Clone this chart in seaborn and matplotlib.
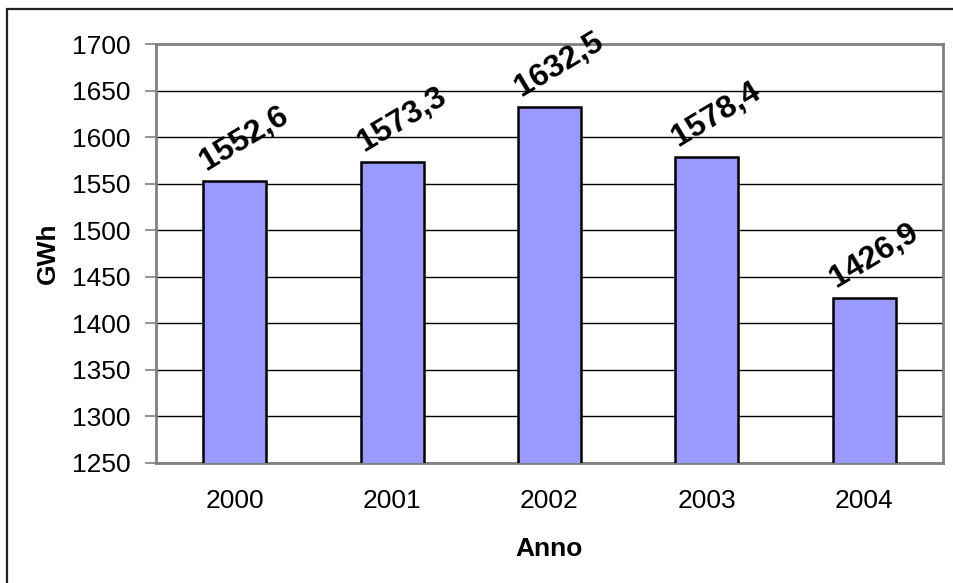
import matplotlib
matplotlib.use('Agg')
import matplotlib.pyplot as plt
import matplotlib.patches as patches
import pandas as pd
import seaborn as sns

years = ['2000', '2001', '2002', '2003', '2004']
gwh = [1552.6, 1573.3, 1632.5, 1578.4, 1426.9]
y_ticks = list(range(1250, 1701, 50))

sns.set_style('white')
plt.rcParams['font.family'] = ['Liberation Sans', 'DejaVu Sans']
plt.rcParams['text.color'] = 'black'
plt.rcParams['axes.labelcolor'] = 'black'
plt.rcParams['xtick.color'] = 'black'
plt.rcParams['ytick.color'] = 'black'

W, H = 954, 583
fig = plt.figure(figsize=(W / 100, H / 100), dpi=100)
ax = fig.add_axes([156 / W, 1 - 463 / H, (943 - 156) / W, (463 - 44) / H])

df = pd.DataFrame({'Anno': years, 'GWh': gwh})
sns.barplot(data=df, x='Anno', y='GWh', color='#9999FF', edgecolor='black',
            linewidth=1.8, width=0.4, saturation=1, ax=ax, zorder=3)

ax.set_ylim(1250, 1700)
ax.set_xlim(-0.5, len(years) - 0.5)
ax.set_yticks(y_ticks)
ax.yaxis.grid(True, color='black', linewidth=1.0, zorder=0)
ax.set_axisbelow(True)

# tick marks between categories, like the original spreadsheet chart
ax.set_xticks([i - 0.5 for i in range(len(years) + 1)], minor=True)
ax.tick_params(axis='x', which='major', length=0, pad=19, labelsize=19)
ax.tick_params(axis='x', which='minor', length=7, width=1.2, color='#808080', direction='out')
ax.tick_params(axis='y', length=8, width=1.2, color='#808080', direction='out', pad=10,
               labelsize=19, left=True, labelcolor='black')

for s in ax.spines.values():
    s.set_visible(True)
    s.set_color('#808080')
    s.set_linewidth(2)

ax.set_xlabel('Anno', fontsize=19, fontweight='bold', labelpad=17)
ax.set_ylabel('GWh', fontsize=19, fontweight='bold', labelpad=9)

for i, v in enumerate(gwh):
    ax.annotate(f'{v:.1f}'.replace('.', ','), (i, v), xytext=(7, 3),
                textcoords='offset points', rotation=31, ha='center', va='bottom',
                fontsize=23, fontweight='bold', annotation_clip=False)

# outer chart border
fig.patches.append(patches.Rectangle((7 / W, -0.1), 1.2, 1.1 - 9 / H, transform=fig.transFigure,
                                     fill=False, edgecolor='#222222', linewidth=1.6))

fig.savefig('out.png', dpi=100)
